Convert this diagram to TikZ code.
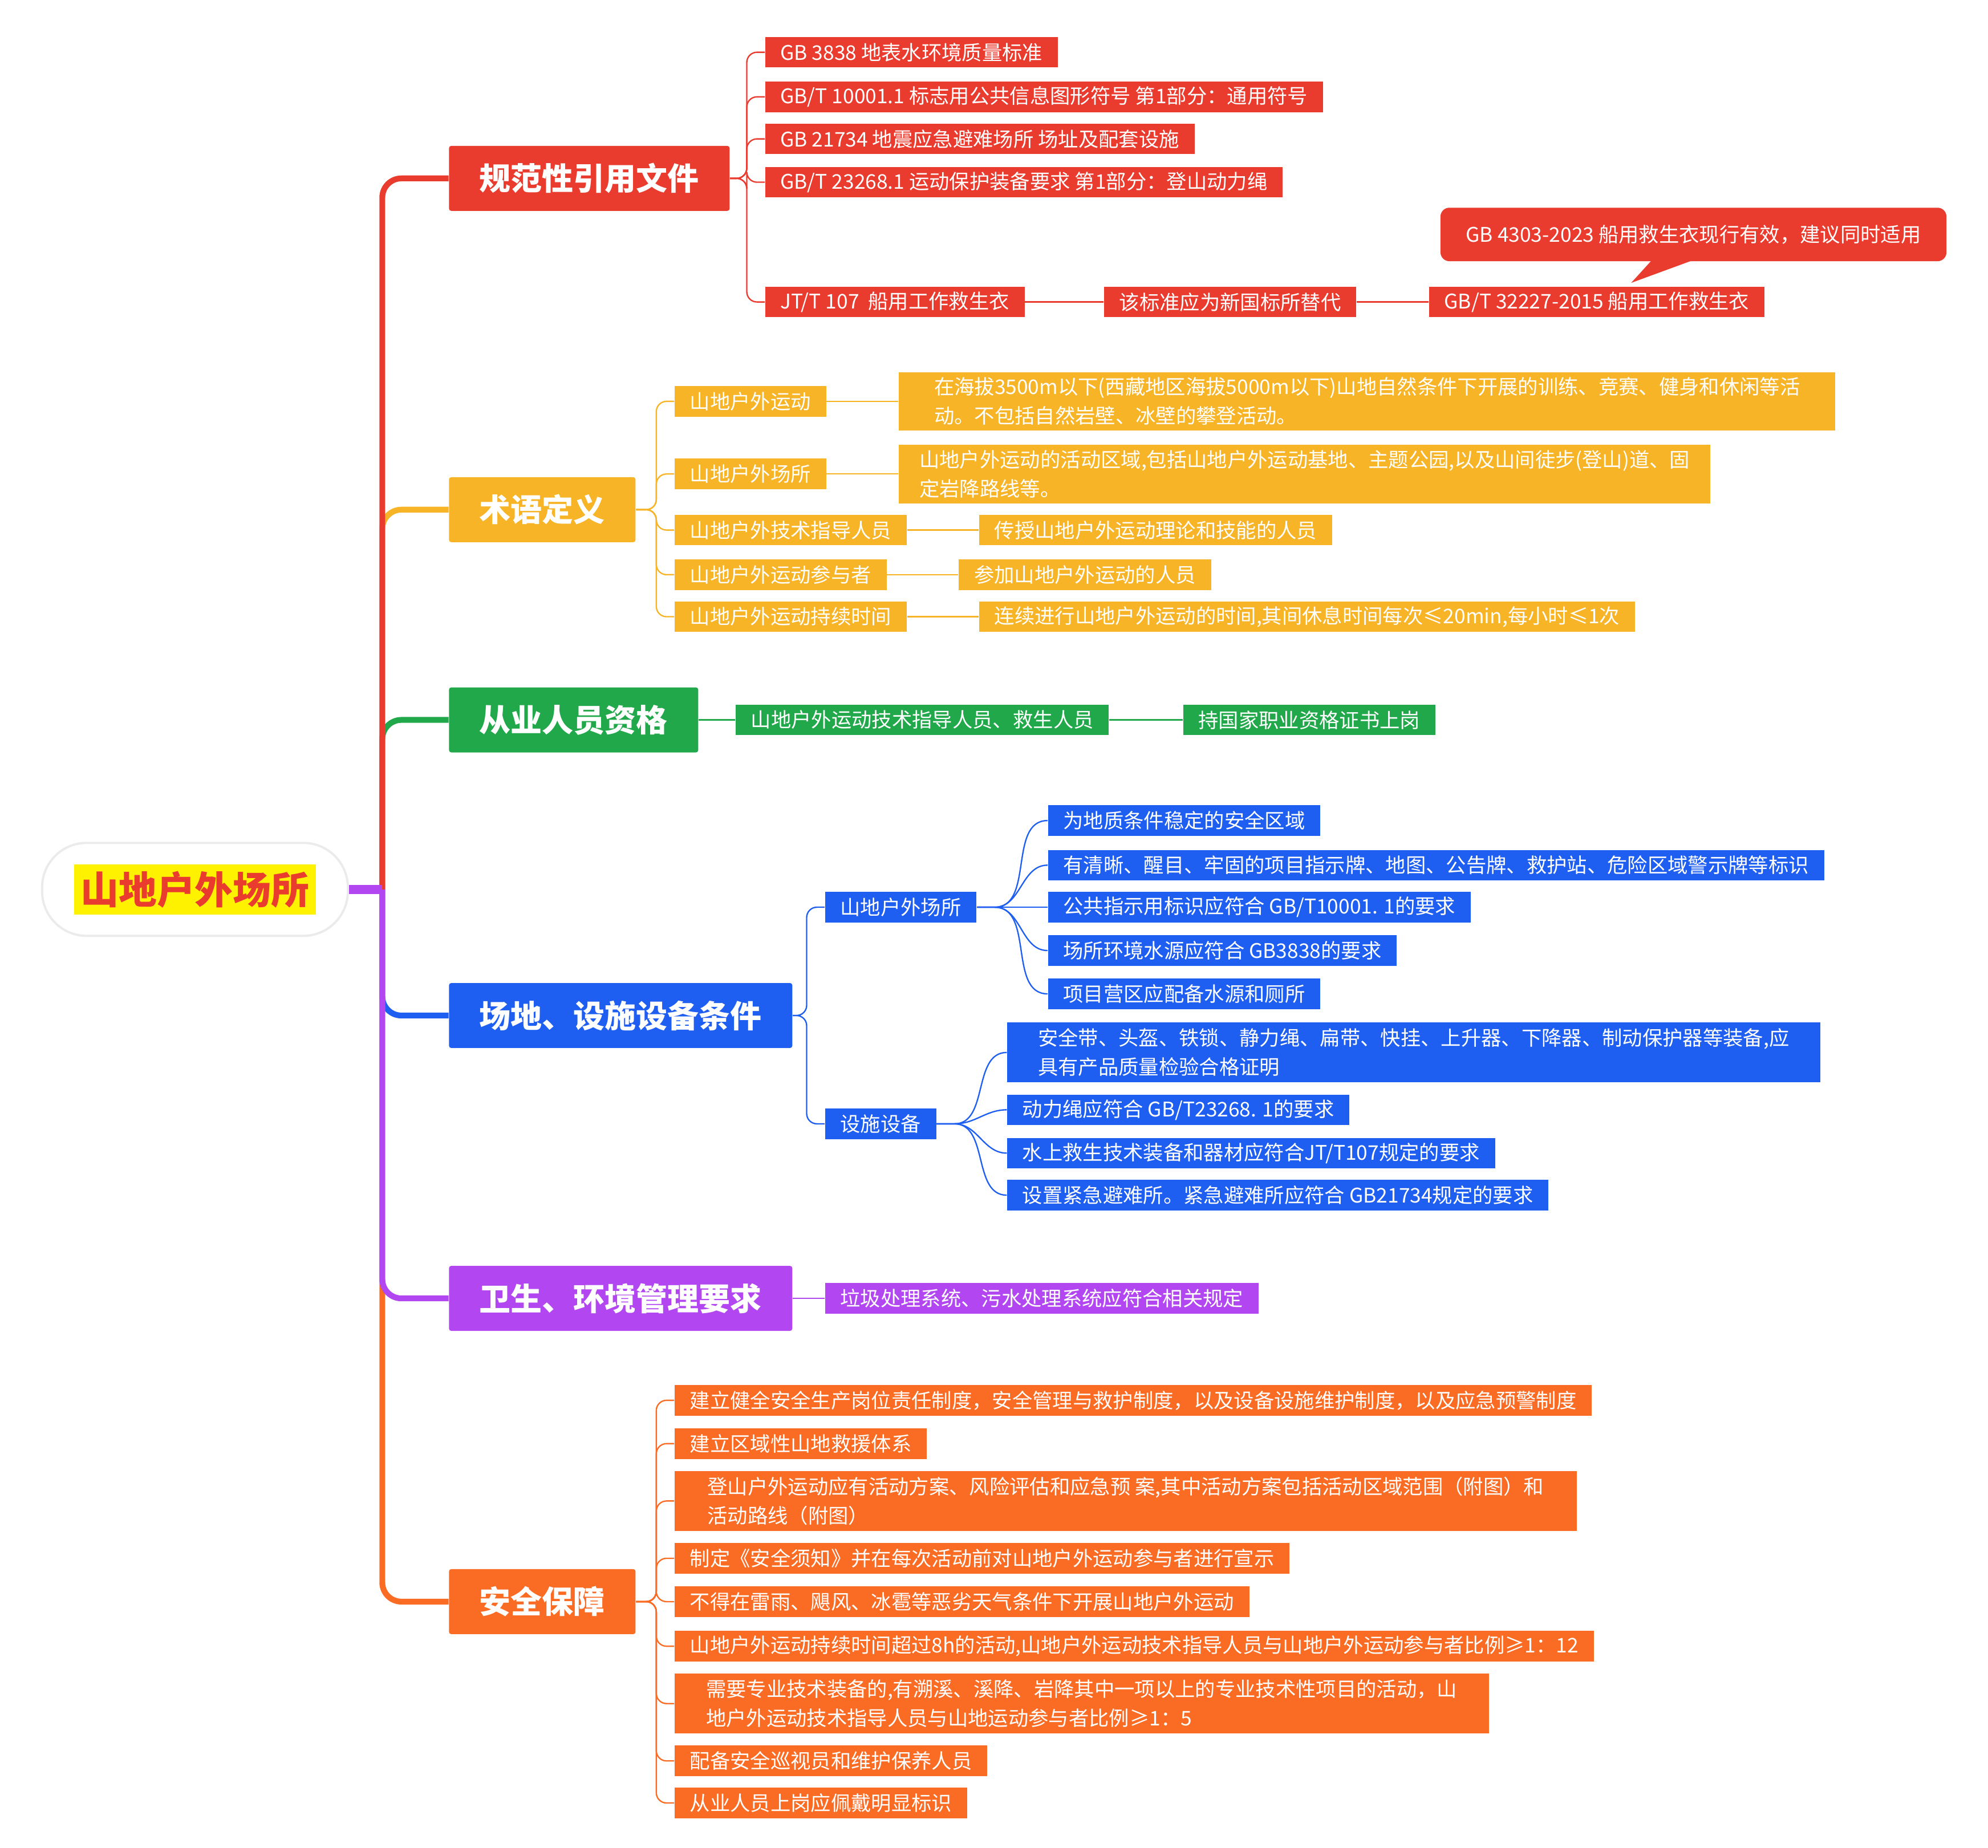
\documentclass[tikz,border=0pt]{standalone}
\usepackage{fontspec}
\setmainfont{Noto Sans CJK SC}
\usetikzlibrary{calc}
\definecolor{cred}{RGB}{234,59,47}
\definecolor{cyel}{RGB}{246,180,38}
\definecolor{cgrn}{RGB}{33,168,74}
\definecolor{cblu}{RGB}{30,94,240}
\definecolor{cpur}{RGB}{178,70,240}
\definecolor{corg}{RGB}{250,107,36}
\tikzset{
  leaf/.style={anchor=west,fill=#1,text=white,inner xsep=0.24cm,inner ysep=0.04cm,
    minimum height=0.48cm,align=left,font=\fontsize{9}{13}\selectfont},
  head/.style={anchor=west,fill=#1,text=white,inner xsep=0.48cm,minimum height=1.02cm,
    rounded corners=1pt,font=\fontsize{14}{16}\selectfont\bfseries},
  trunk/.style={draw=#1,line width=2.6pt,rounded corners=0.3cm},
  twig/.style={draw=#1,line width=0.6pt,rounded corners=0.16cm},
}
\newcommand\fork[3]{\draw[twig=#1] (#2.east) -| ($(#3.west)+(-14,0)$) -- (#3.west);}
\begin{document}
\begin{tikzpicture}[x=0.02cm,y=-0.02cm]
\useasboundingbox (0,0) rectangle (1560,1450);
% root
\node[fill=white,draw=black!8,line width=1pt,rounded corners=0.7cm,minimum width=4.8cm,minimum height=1.46cm]
  (root) at (153,698) {\colorbox{yellow}{\fontsize{17}{19}\selectfont\bfseries\color{cred}山地户外场所}};
% headings
\node[head=cred] (h1) at (352,140) {规范性引用文件};
\node[head=cyel] (h2) at (352,400) {术语定义};
\node[head=cgrn] (h3) at (352,565) {从业人员资格};
\node[head=cblu] (h4) at (352,797) {场地、设施设备条件};
\node[head=cpur] (h5) at (352,1019) {卫生、环境管理要求};
\node[head=corg] (h6) at (352,1257) {安全保障};
\coordinate (hub) at (300,698);
\foreach \h/\c in {h2/cyel,h3/cgrn,h4/cblu,h6/corg,h1/cred,h5/cpur}
  {\draw[trunk=\c] (hub) |- (\h.west);}
\draw[cpur,line width=4pt] (root.east) -- (hub);

% 规范性引用文件
\node[leaf=cred] (a1) at (600,41) {GB 3838 地表水环境质量标准};
\node[leaf=cred] (a2) at (600,76) {GB/T 10001.1 标志用公共信息图形符号 第1部分：通用符号};
\node[leaf=cred] (a3) at (600,109) {GB 21734 地震应急避难场所 场址及配套设施};
\node[leaf=cred] (a4) at (600,143) {GB/T 23268.1 运动保护装备要求 第1部分：登山动力绳};
\node[leaf=cred] (a5) at (600,237) {JT/T 107\ \ 船用工作救生衣};
\node[leaf=cred] (a6) at (866,237) {该标准应为新国标所替代};
\node[leaf=cred] (a7) at (1121,237) {GB/T 32227-2015 船用工作救生衣};
\foreach \n in {a1,a2,a3,a4,a5} {\fork{cred}{h1}{\n}}
\draw[cred,line width=0.6pt] (a5) -- (a6) (a6) -- (a7);
\node[leaf=cred,rounded corners=0.14cm,minimum height=0.84cm,inner xsep=0.4cm] (note) at (1130,184)
  {GB 4303-2023 船用救生衣现行有效，建议同时适用};
\fill[cred] (1300,200) -- (1280,222) -- (1340,200) -- cycle;

% 术语定义
\node[leaf=cyel] (b1) at (529,315) {山地户外运动};
\node[leaf=cyel] (b2) at (529,372) {山地户外场所};
\node[leaf=cyel] (b3) at (529,416) {山地户外技术指导人员};
\node[leaf=cyel] (b4) at (529,451) {山地户外运动参与者};
\node[leaf=cyel] (b5) at (529,484) {山地户外运动持续时间};
\node[leaf=cyel,minimum width=14.7cm,minimum height=0.92cm] (b1d) at (705,315)
  {在海拔3500m以下(西藏地区海拔5000m以下)山地自然条件下开展的训练、竞赛、健身和休闲等活\\动。不包括自然岩壁、冰壁的攀登活动。};
\node[leaf=cyel,minimum width=12.74cm,minimum height=0.92cm] (b2d) at (705,372)
  {山地户外运动的活动区域,包括山地户外运动基地、主题公园,以及山间徒步(登山)道、固\\定岩降路线等。};
\node[leaf=cyel] (b3d) at (768,416) {传授山地户外运动理论和技能的人员};
\node[leaf=cyel] (b4d) at (752,451) {参加山地户外运动的人员};
\node[leaf=cyel] (b5d) at (768,484) {连续进行山地户外运动的时间,其间休息时间每次≤20min,每小时≤1次};
\foreach \n in {b1,b2,b3,b4,b5} {\fork{cyel}{h2}{\n} \draw[cyel,line width=0.6pt] (\n) -- (\n d);}

% 从业人员资格
\node[leaf=cgrn] (c1) at (577,565) {山地户外运动技术指导人员、救生人员};
\node[leaf=cgrn] (c2) at (928,565) {持国家职业资格证书上岗};
\draw[cgrn,line width=0.6pt] (h3) -- (c1) (c1) -- (c2);

% 场地、设施设备条件
\node[leaf=cblu] (d1) at (647,712) {山地户外场所};
\node[leaf=cblu] (d2) at (647,882) {设施设备};
\foreach \n in {d1,d2} {\fork{cblu}{h4}{\n}}
\node[leaf=cblu] (e1) at (822,644) {为地质条件稳定的安全区域};
\node[leaf=cblu] (e2) at (822,679) {有清晰、醒目、牢固的项目指示牌、地图、公告牌、救护站、危险区域警示牌等标识};
\node[leaf=cblu] (e3) at (822,712) {公共指示用标识应符合 GB/T10001. 1的要求};
\node[leaf=cblu] (e4) at (822,746) {场所环境水源应符合 GB3838的要求};
\node[leaf=cblu] (e5) at (822,780) {项目营区应配备水源和厕所};
\foreach \n in {e1,e2,e3,e4,e5}
  {\draw[cblu,line width=0.6pt] (d1.east) -- ++(14,0) to[out=0,in=180] (\n.west);}
\node[leaf=cblu,minimum width=12.76cm,minimum height=0.94cm] (f1) at (790,826)
  {安全带、头盔、铁锁、静力绳、扁带、快挂、上升器、下降器、制动保护器等装备,应\\具有产品质量检验合格证明};
\node[leaf=cblu] (f2) at (790,871) {动力绳应符合 GB/T23268. 1的要求};
\node[leaf=cblu] (f3) at (790,905) {水上救生技术装备和器材应符合JT/T107规定的要求};
\node[leaf=cblu] (f4) at (790,938) {设置紧急避难所。紧急避难所应符合 GB21734规定的要求};
\foreach \n in {f1,f2,f3,f4}
  {\draw[cblu,line width=0.6pt] (d2.east) -- ++(14,0) to[out=0,in=180] (\n.west);}

% 卫生、环境管理要求
\node[leaf=cpur] (g1) at (647,1019) {垃圾处理系统、污水处理系统应符合相关规定};
\draw[cpur,line width=0.6pt] (h5) -- (g1);

% 安全保障
\node[leaf=corg] (k1) at (529,1099) {建立健全安全生产岗位责任制度，安全管理与救护制度，以及设备设施维护制度，以及应急预警制度};
\node[leaf=corg] (k2) at (529,1133) {建立区域性山地救援体系};
\node[leaf=corg,minimum width=14.16cm,minimum height=0.94cm] (k3) at (529,1178)
  {登山户外运动应有活动方案、风险评估和应急预 案,其中活动方案包括活动区域范围（附图）和\\活动路线（附图）};
\node[leaf=corg] (k4) at (529,1223) {制定《安全须知》并在每次活动前对山地户外运动参与者进行宣示};
\node[leaf=corg] (k5) at (529,1257) {不得在雷雨、飓风、冰雹等恶劣天气条件下开展山地户外运动};
\node[leaf=corg] (k6) at (529,1292) {山地户外运动持续时间超过8h的活动,山地户外运动技术指导人员与山地户外运动参与者比例≥1：12};
\node[leaf=corg,minimum width=12.78cm,minimum height=0.94cm] (k7) at (529,1337)
  {需要专业技术装备的,有溯溪、溪降、岩降其中一项以上的专业技术性项目的活动，山\\地户外运动技术指导人员与山地运动参与者比例≥1：5};
\node[leaf=corg] (k8) at (529,1382) {配备安全巡视员和维护保养人员};
\node[leaf=corg] (k9) at (529,1415) {从业人员上岗应佩戴明显标识};
\foreach \n in {k1,k2,k3,k4,k5,k6,k7,k8,k9} {\fork{corg}{h6}{\n}}
\end{tikzpicture}
\end{document}
